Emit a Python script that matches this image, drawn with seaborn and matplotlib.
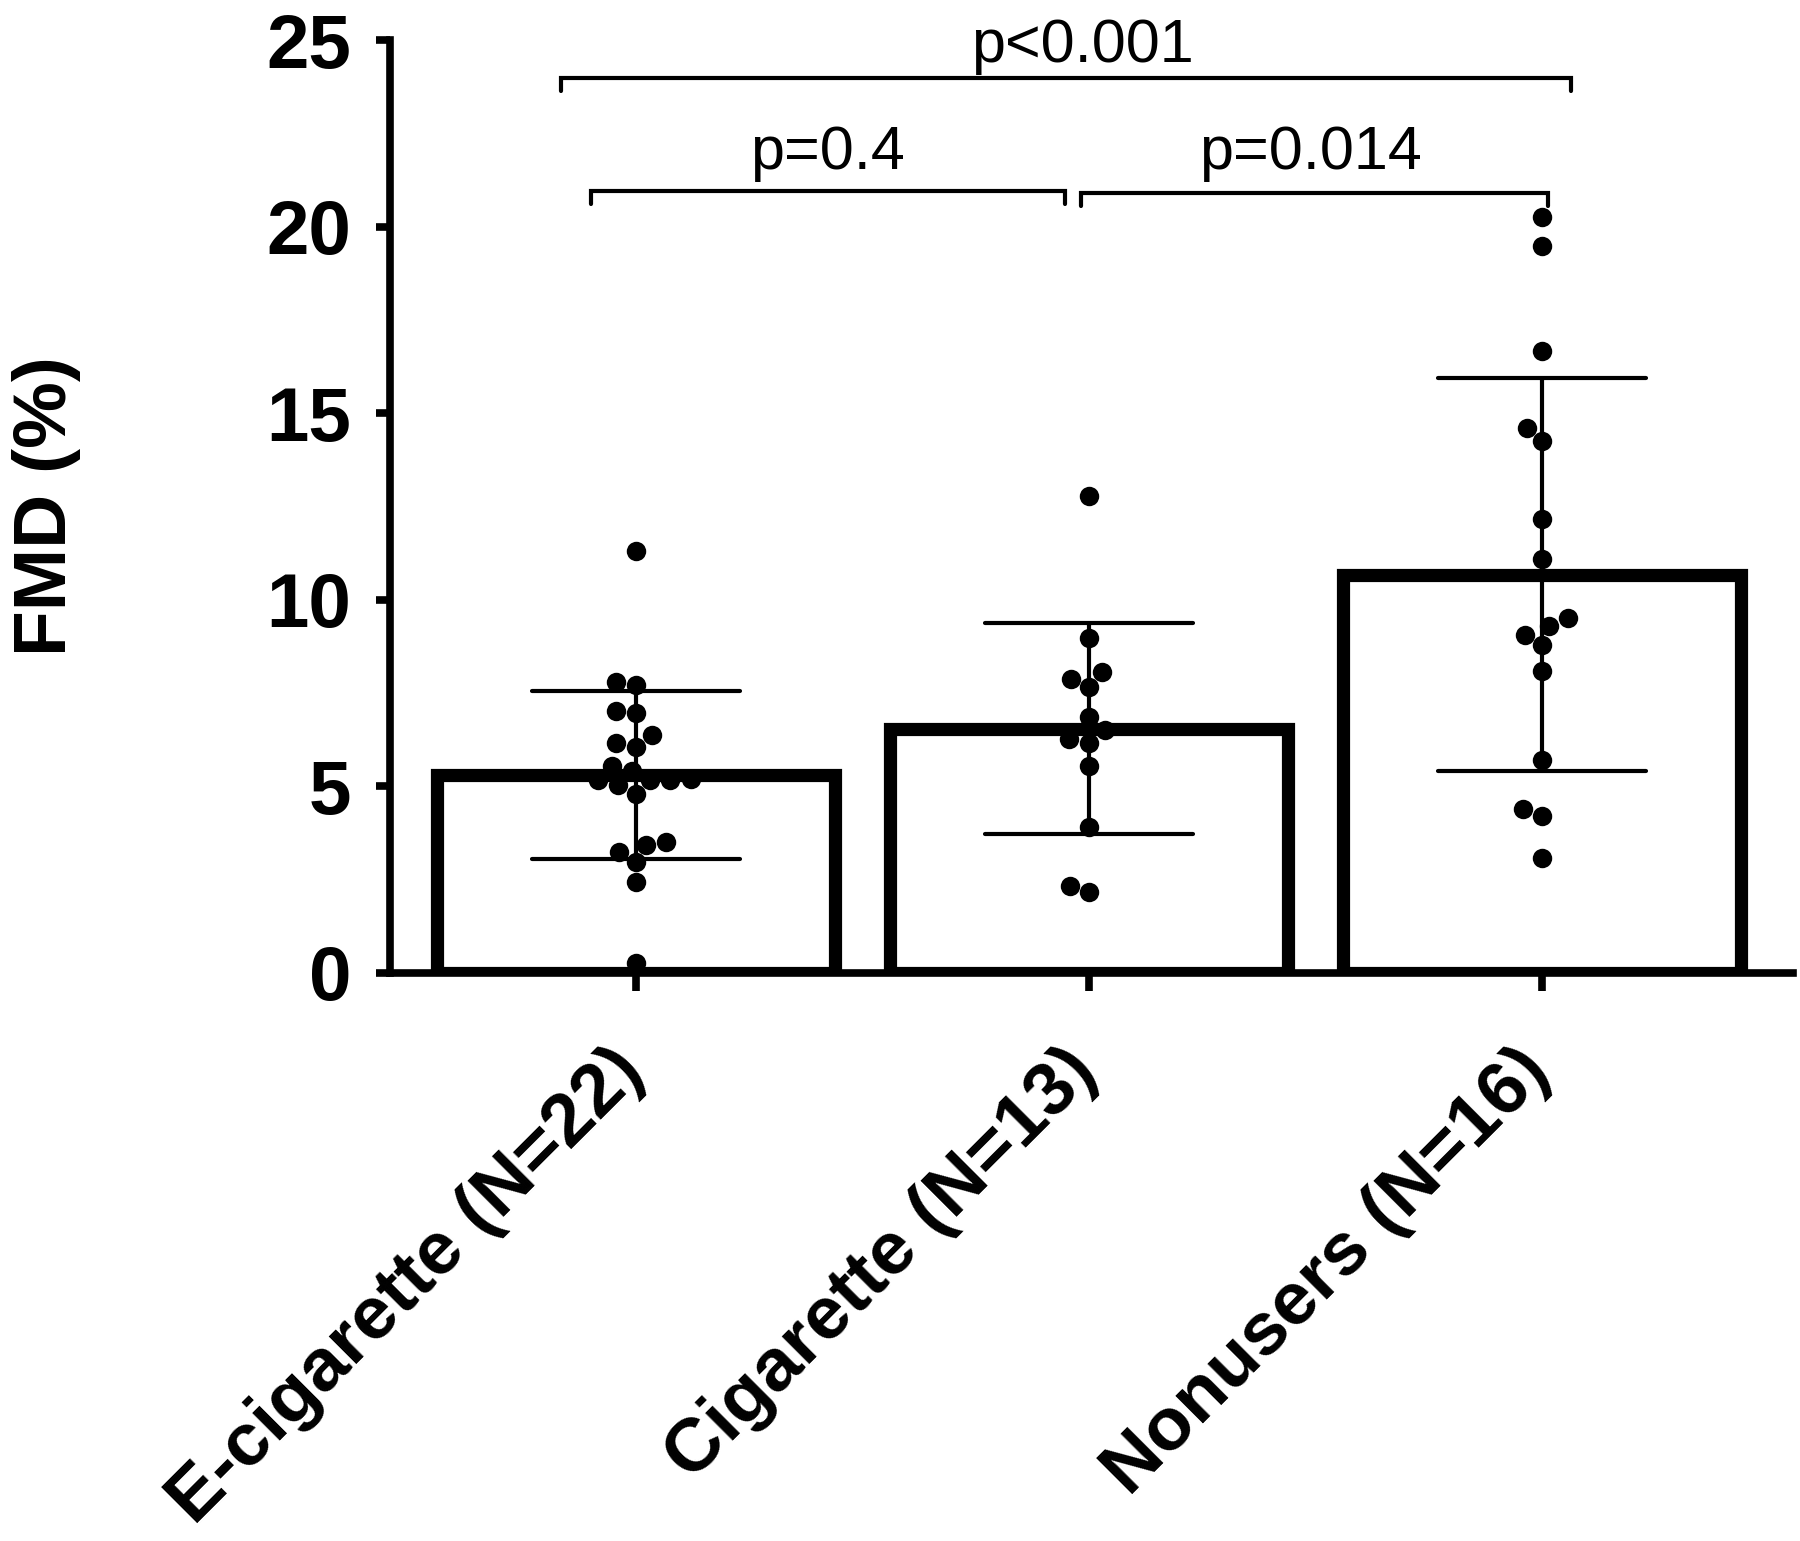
import matplotlib
matplotlib.use("Agg")
import matplotlib.pyplot as plt
import seaborn as sns
import pandas as pd
import numpy as np
from matplotlib.transforms import ScaledTranslation

# groups and FMD values
groups = ['E-cigarette (N=22)', 'Cigarette (N=13)', 'Nonusers (N=16)']
ecig = [11.31, 7.72, 7.79, 7.03, 6.98, 6.38, 6.06, 6.15, 5.56, 5.42, 5.04,
        5.17, 5.20, 4.79, 5.17, 5.17, 3.43, 3.52, 3.25, 2.98, 2.45, 0.26]
cig = [12.79, 8.98, 8.07, 7.67, 7.89, 6.87, 6.50, 6.17, 6.26, 5.55, 3.91,
       2.17, 2.33]
nonusers = [20.26, 19.49, 16.66, 14.60, 14.26, 12.17, 11.10, 9.50, 9.29,
            9.07, 8.80, 8.08, 5.72, 4.39, 4.21, 3.08]

# pairwise comparisons: (left group, right group, label)
comparisons = [(0, 1, 'p=0.4'), (1, 2, 'p=0.014'), (0, 2, 'p<0.001')]

df = pd.DataFrame({
    'group': [groups[0]] * len(ecig) + [groups[1]] * len(cig) + [groups[2]] * len(nonusers),
    'fmd': ecig + cig + nonusers,
})

sns.set_style('ticks')
plt.rcParams['font.family'] = ['Liberation Sans', 'DejaVu Sans']
for k in ['text.color', 'axes.labelcolor', 'xtick.color', 'ytick.color', 'axes.edgecolor']:
    plt.rcParams[k] = 'black'

fig = plt.figure(figsize=(18, 15.41), dpi=100)
ax = fig.add_axes([0.2167, 0.3686, 0.7794, 0.6054])

sns.barplot(data=df, x='group', y='fmd', order=groups, errorbar='sd',
            capsize=0.46, width=0.88, color='white', saturation=1,
            edgecolor='black', linewidth=9.5,
            err_kws={'color': 'black', 'linewidth': 3}, ax=ax)
sns.swarmplot(data=df, x='group', y='fmd', order=groups, color='black',
              size=14, ax=ax, zorder=3)

ax.set_xlim(-0.543, 2.554)
ax.set_ylim(0, 25)
ax.set_yticks(range(0, 26, 5))
sns.despine(ax=ax)
for s in ['left', 'bottom']:
    ax.spines[s].set_linewidth(5.5)
    ax.spines[s].set_color('black')

ax.set_xlabel('')
ax.set_ylabel('FMD (%)', fontsize=54, fontweight='bold')
ax.yaxis.set_label_coords(-0.22, 0.5)

ax.tick_params(axis='y', length=10, width=5.5, labelsize=55, pad=18)
ax.tick_params(axis='x', length=13, width=5.5, labelsize=54, pad=50)
for lbl in ax.get_yticklabels():
    lbl.set_fontweight('bold')
offset = ScaledTranslation(-0.03, 0, fig.dpi_scale_trans)
for lbl in ax.get_xticklabels():
    lbl.set_fontweight('bold')
    lbl.set_rotation(45)
    lbl.set_ha('right')
    lbl.set_va('center')
    lbl.set_rotation_mode('anchor')
    lbl.set_transform(lbl.get_transform() + offset)

# significance brackets
bracket_geom = {
    'p=0.4': (-0.10, 0.947, 20.95, 20.62, 0.423, 21.55),
    'p=0.014': (0.982, 2.013, 20.90, 20.55, 1.488, 21.55),
    'p<0.001': (-0.166, 2.064, 23.98, 23.63, 0.985, 24.42),
}
for i, j, label in comparisons:
    x0, x1, ytop, yend, xt, yt = bracket_geom[label]
    ax.plot([x0, x0, x1, x1], [yend, ytop, ytop, yend], color='black',
            lw=3, clip_on=False, solid_joinstyle='miter')
    ax.text(xt, yt, label, ha='center', va='baseline', fontsize=44)

fig.savefig('out.png', dpi=100)
